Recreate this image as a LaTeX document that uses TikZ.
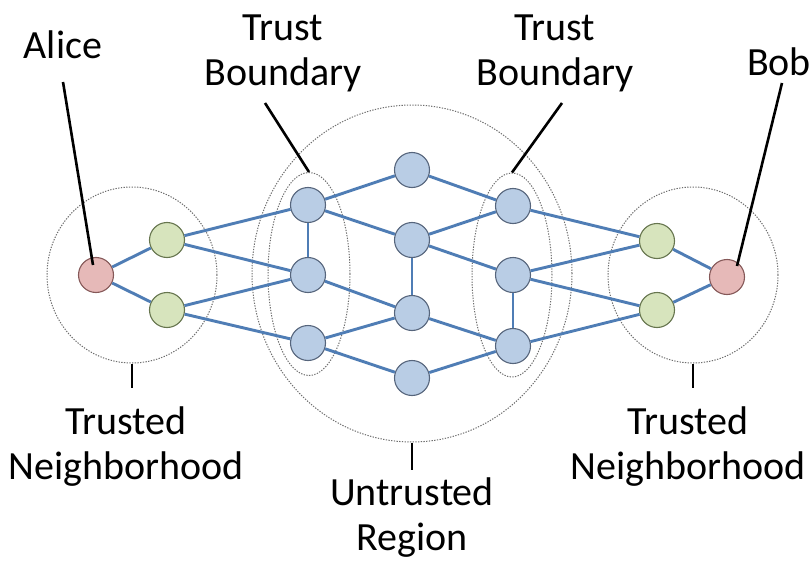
\documentclass[tikz,border=0pt]{standalone}
\usepackage{fontspec}
\setmainfont{Carlito}
\usetikzlibrary{shapes.geometric}
\definecolor{nodeblue}{HTML}{B9CDE5}
\definecolor{nodeblueline}{HTML}{56657C}
\definecolor{nodegreen}{HTML}{D7E4BD}
\definecolor{nodegreenline}{HTML}{66754E}
\definecolor{nodered}{HTML}{E6B9B8}
\definecolor{noderedline}{HTML}{855858}
\definecolor{edgeblue}{HTML}{4F7DB5}
\definecolor{regiongray}{HTML}{6E6E6E}
\begin{document}
\begin{tikzpicture}[x=1pt,y=-1pt,
  vtx/.style={circle, minimum size=35pt, inner sep=0pt, line width=1.1pt},
  bluevtx/.style={vtx, fill=nodeblue, draw=nodeblueline},
  greenvtx/.style={vtx, fill=nodegreen, draw=nodegreenline},
  redvtx/.style={vtx, fill=nodered, draw=noderedline},
  link/.style={draw=edgeblue, line width=2.9pt},
  region/.style={ellipse, inner sep=0pt, draw=regiongray, line width=1pt, dash pattern=on 1.3pt off 1.4pt},
  pointer/.style={draw=black, line width=2.6pt},
  lbl/.style={font=\fontsize{40}{45}\selectfont, align=center, inner sep=0pt}]
\useasboundingbox (0,0) rectangle (812,562);
\fill[white] (0,0) rectangle (812,562);

% regions
\node[region, minimum width=170pt, minimum height=176pt] (nl) at (132,275) {};
\node[region, minimum width=170pt, minimum height=176pt] (nr) at (693,275) {};
\node[region, minimum width=320pt, minimum height=337pt] (ur) at (412,273.5) {};
\node[region, minimum width=82pt, minimum height=203pt] (tbl) at (309,274) {};
\node[region, minimum width=80pt, minimum height=204pt] (tbr) at (512,275) {};

% vertices
\node[redvtx] (a) at (96,275) {};
\node[greenvtx] (g1) at (167,240) {};
\node[greenvtx] (g2) at (167,310) {};
\node[bluevtx] (l1) at (308,205) {};
\node[bluevtx] (l2) at (308,275) {};
\node[bluevtx] (l3) at (308,343) {};
\node[bluevtx] (c1) at (412,170) {};
\node[bluevtx] (c2) at (412,240) {};
\node[bluevtx] (c3) at (412,313) {};
\node[bluevtx] (c4) at (412,378) {};
\node[bluevtx] (r1) at (513,206) {};
\node[bluevtx] (r2) at (513,275) {};
\node[bluevtx] (r3) at (513,346) {};
\node[greenvtx] (h1) at (657,241) {};
\node[greenvtx] (h2) at (657,310) {};
\node[redvtx] (b) at (727,277) {};

% edges
\foreach \u/\v in {a/g1,a/g2,g1/l1,g1/l2,g2/l2,g2/l3,l1/l2,l1/c1,l1/c2,l2/c3,l3/c3,l3/c4,c2/c3,c1/r1,c2/r1,c2/r2,c3/r3,c4/r3,r2/r3,r1/h1,r2/h1,r2/h2,r3/h2,h1/b,h2/b}
  \draw[link] (\u) -- (\v);

% labels
\node[lbl] (alicelbl) at (63,45) {Alice};
\node[lbl] (boblbl) at (779,62) {Bob};
\node[lbl] (tbllbl) at (283,53) {Trust\\Boundary};
\node[lbl] (tbrlbl) at (555,53) {Trust\\Boundary};
\node[lbl] (nllbl) at (126,447) {Trusted\\Neighborhood};
\node[lbl] (nrlbl) at (688,447) {Trusted\\Neighborhood};
\node[lbl] (urlbl) at (412,518) {Untrusted\\Region};

% pointer lines
\coordinate (alicetop) at (63,82);
\coordinate (aliceend) at (93,265);
\coordinate (bobtop) at (782,83);
\coordinate (bobend) at (737,266);
\coordinate (tbltop) at (265,103);
\coordinate (tbrtop) at (562,103);
\coordinate (nltick) at (132,388);
\coordinate (nrtick) at (693,388);
\coordinate (urtick) at (412,470);
\draw[pointer] (alicetop) -- (aliceend);
\draw[pointer] (bobtop) -- (bobend);
\draw[pointer] (tbltop) -- (tbl.north);
\draw[pointer] (tbrtop) -- (tbr.north);
\draw[pointer] (nl.south) -- (nltick);
\draw[pointer] (nr.south) -- (nrtick);
\draw[pointer] (ur.south) -- (urtick);
\end{tikzpicture}
\end{document}
